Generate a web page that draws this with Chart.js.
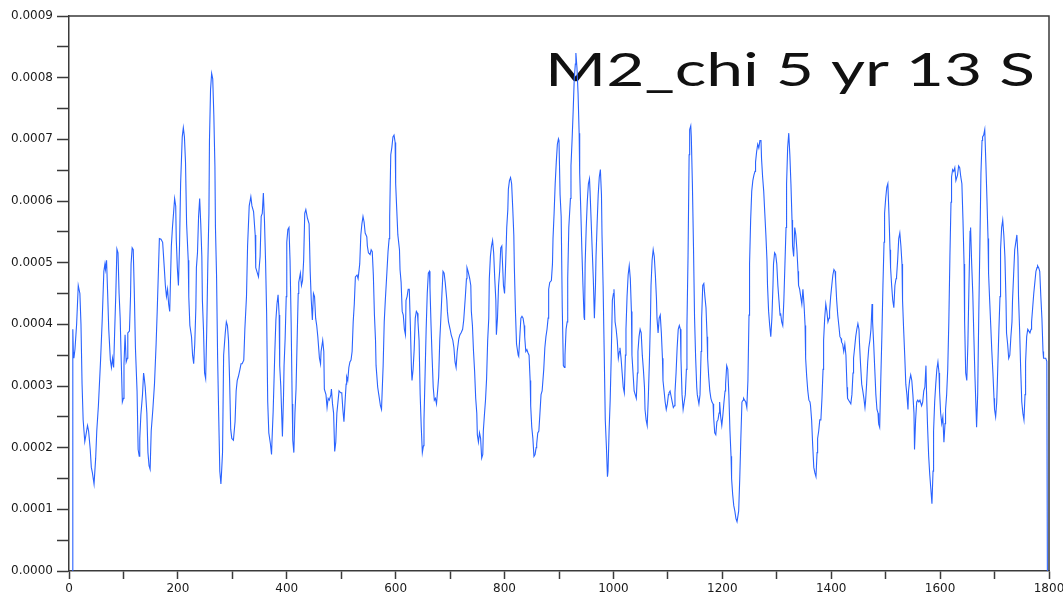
<!DOCTYPE html>
<html>
<head>
<meta charset="utf-8">
<script src="https://cdn.jsdelivr.net/npm/chart.js@4.4.1/dist/chart.umd.min.js"></script>
<style>
  html, body { margin: 0; padding: 0; background: #fff; }
  #wrap { width: 1063px; height: 599px; }
</style>
</head>
<body>
<div id="wrap"><canvas id="chart" width="1063" height="599"></canvas></div>
<script>
// time axis (samples)
const sampleX = [
  6,7,8,9,11,14,17,20,22,24,26,29,31,34,36,39,41,43,46,49,51,54,58,61,64,66,67,69,71,73,76,78,80,82,84,86,88,90,92,94,96,98,100,101,103,105,107,108,111,113,114,116,118,120,122,125,127,129,130,132,135,137,138,140,143,145,147,149,151,154,157,160,162,164,166,169,172,175,177,179,181,183,185,186,188,190,192,194,196,197,199,201,203,205,208,210,212,214,216,219,
  220,222,225,227,229,231,233,234,236,238,240,242,244,245,247,249,251,253,255,257,258,260,262,264,266,268,269,271,273,275,277,279,280,282,284,287,289,291,293,295,297,299,302,305,307,309,311,314,316,318,321,323,326,328,331,334,336,339,342,343,346,348,351,353,355,357,359,361,363,365,367,370,372,373,375,378,380,382,384,386,387,389,391,392,394,395,397,399,400,402,404,406,408,410,411,413,415,417,419,421,422,425,427,429,431,433,435,438,441,443,445,447,449,451,
  453,455,457,460,462,463,466,468,469,472,474,476,478,481,482,484,486,488,490,492,494,496,499,501,503,505,507,509,510,512,514,516,518,520,522,524,526,529,531,534,536,538,540,542,544,547,548,550,553,555,557,559,561,563,564,567,569,572,574,575,577,579,581,584,586,588,589,591,593,595,597,599,600,602,604,607,608,610,612,614,616,618,619,621,623,625,627,629,630,632,634,636,638,640,641,643,645,647,649,651,652,654,656,658,660,662,663,665,667,669,671,673,675,677,679,681,
  683,685,687,689,691,694,695,697,700,702,705,707,709,711,713,716,718,720,723,725,728,730,731,733,736,738,739,741,743,745,747,749,750,752,754,756,758,760,761,763,765,767,769,771,772,774,776,778,780,782,784,785,787,789,791,793,795,796,798,800,802,804,806,807,809,811,813,815,817,818,820,822,825,826,828,830,832,834,836,837,839,841,843,845,847,848,850,852,854,856,858,859,861,863,865,867,869,870,872,874,876,878,880,881,883,886,888,889,891,893,895,897,899,900,902,904,906,908,910,
  911,913,915,916,918,921,922,924,926,928,930,931,933,935,937,938,940,942,944,946,947,948,950,952,954,956,957,959,961,963,965,967,968,970,972,974,976,978,979,981,983,985,987,989,990,992,994,996,998,1000,1001,1003,1005,1007,1009,1011,1012,1014,1016,1018,1020,1022,1023,1025,1027,1029,1031,1033,1034,1036,1038,1040,1042,1044,1045,1047,1049,1051,1053,1055,1057,1058,1060,1062,1064,1066,1068,1069,1071,1073,1075,1077,1079,1080,1082,1084,1086,1088,1090,1091,1093,1095,1097,1099,1101,1102,1104,1106,1108,1110,1112,1113,1115,1117,1119,1121,1123,1124,1126,1128,1130,1132,1134,1135,1137,1139,
  1140,1142,1143,1145,1147,1149,1151,1153,1154,1157,1159,1161,1162,1164,1166,1168,1170,1172,1173,1175,1177,1179,1181,1183,1184,1186,1188,1190,1192,1194,1195,1197,1199,1201,1203,1205,1206,1208,1210,1212,1214,1216,1217,1219,1221,1223,1225,1227,1228,1230,1232,1234,1236,1238,1239,1241,1243,1245,1247,1249,1250,1252,1254,1256,1258,1260,1261,1263,1265,1267,1269,1271,1272,1274,1276,1278,1280,1282,1283,1285,1287,1289,1291,1293,1294,1296,1298,1300,1302,1304,1306,1307,1309,1311,1313,1315,1317,1318,1320,1322,1324,1326,1328,1329,1331,1333,1335,1337,1339,1340,1342,1344,1346,1348,1350,1352,1353,1355,1357,1359,1361,1362,1364,1366,1368,
  1370,1372,1374,1375,1377,1379,1381,1383,1385,1386,1388,1390,1392,1394,1396,1397,1399,1401,1403,1405,1407,1408,1410,1412,1414,1416,1418,1419,1421,1423,1425,1427,1429,1430,1432,1434,1436,1438,1440,1441,1443,1445,1447,1449,1451,1452,1454,1456,1458,1460,1462,1463,1465,1467,1469,1471,1473,1475,1476,1478,1480,1482,1484,1486,1487,1489,1491,1493,1495,1497,1498,1500,1502,1504,1506,1508,1509,1511,1513,1515,1517,1519,1520,1522,1524,1526,1528,1530,1531,1533,1535,1537,1539,1541,1542,1544,1546,1548,1550,1552,1553,1555,1557,1559,1561,1563,1564,1566,1568,1570,1572,1574,1575,1577,1579,1581,1583,1585,1587,1588,1590,1592,1594,1596,1598,
  1599,1601,1603,1605,1607,1609,1610,1612,1614,1616,1618,1620,1621,1623,1625,1627,1629,1631,1632,1634,1636,1638,1640,1642,1644,1645,1647,1649,1651,1653,1655,1656,1658,1660,1662,1664,1666,1667,1669,1671,1673,1675,1677,1678,1680,1682,1684,1686,1688,1689,1691,1693,1695,1697,1699,1700,1702,1704,1706,1708,1710,1711,1713,1715,1717,1719,1721,1722,1724,1726,1728,1730,1732,1733,1735,1737,1739,1741,1743,1744,1746,1748,1750,1752,1754,1756,1757,1759,1761,1763,1765,1767,1768,1770,1772,1774,1776,1778,1779,1781,1783,1785,1787,1789,1790,1792,1794,1796,1797
];

// chi value at each sample
const chiValues = [
  0,3.92e-4,3.55e-4,3.45e-4,3.6e-4,4.0e-4,4.63e-4,4.5e-4,4.0e-4,3.03e-4,2.45e-4,2.1e-4,2.2e-4,2.36e-4,2.27e-4,1.97e-4,1.68e-4,1.59e-4,1.41e-4,1.83e-4,2.27e-4,2.68e-4,3.42e-4,4.07e-4,4.86e-4,4.98e-4,4.89e-4,5.04e-4,4.5e-4,3.92e-4,3.42e-4,3.3e-4,3.45e-4,3.3e-4,3.92e-4,4.5e-4,5.22e-4,5.16e-4,4.5e-4,4.1e-4,3.39e-4,2.74e-4,2.8e-4,3.36e-4,3.83e-4,3.39e-4,3.45e-4,3.86e-4,3.89e-4,4.45e-4,4.98e-4,5.24e-4,5.21e-4,4.5e-4,3.62e-4,2.92e-4,1.97e-4,1.86e-4,2.15e-4,2.53e-4,2.86e-4,3.21e-4,3.15e-4,2.98e-4,2.56e-4,1.92e-4,1.71e-4,1.65e-4,2.27e-4,2.62e-4,3.03e-4,3.68e-4,4.21e-4,4.8e-4,5.39e-4,5.38e-4,5.33e-4,4.92e-4,4.63e-4,4.45e-4,4.57e-4,4.33e-4,4.21e-4,4.57e-4,5.27e-4,5.57e-4,5.8e-4,6.04e-4,5.92e-4,5.39e-4,4.92e-4,4.63e-4,5.27e-4,6.28e-4,7.04e-4,7.19e-4,7.04e-4,6.63e-4,5.63e-4,5.04e-4,
  4.45e-4,3.98e-4,3.8e-4,3.5e-4,3.36e-4,3.68e-4,4.27e-4,4.92e-4,5.16e-4,5.75e-4,6.04e-4,5.63e-4,5.1e-4,4.39e-4,3.92e-4,3.21e-4,3.12e-4,3.92e-4,4.98e-4,5.8e-4,6.98e-4,7.81e-4,8.07e-4,7.98e-4,7.4e-4,6.57e-4,5.57e-4,4.8e-4,3.45e-4,2.5e-4,1.62e-4,1.41e-4,1.56e-4,1.92e-4,3.5e-4,3.86e-4,4.04e-4,3.98e-4,3.74e-4,3.09e-4,2.3e-4,2.15e-4,2.12e-4,2.42e-4,2.92e-4,3.09e-4,3.15e-4,3.27e-4,3.36e-4,3.36e-4,3.42e-4,3.92e-4,4.45e-4,5.27e-4,5.92e-4,6.07e-4,5.92e-4,5.83e-4,5.45e-4,4.92e-4,4.83e-4,4.77e-4,5.1e-4,5.75e-4,5.8e-4,6.13e-4,5.69e-4,5.04e-4,4.18e-4,2.74e-4,2.24e-4,2.06e-4,1.89e-4,2.15e-4,2.59e-4,3.54e-4,4.07e-4,4.33e-4,4.48e-4,4.15e-4,3.33e-4,3.0e-4,2.45e-4,2.18e-4,2.83e-4,3.33e-4,3.77e-4,4.45e-4,5.33e-4,5.54e-4,5.57e-4,5.04e-4,4.04e-4,2.71e-4,2.12e-4,1.92e-4,2.56e-4,2.95e-4,3.74e-4,4.5e-4,4.68e-4,4.83e-4,4.63e-4,4.71e-4,5.04e-4,5.8e-4,5.86e-4,5.72e-4,5.63e-4,4.86e-4,4.39e-4,4.07e-4,4.5e-4,4.45e-4,
  4.1e-4,3.98e-4,3.8e-4,3.45e-4,3.36e-4,3.56e-4,3.74e-4,3.56e-4,2.95e-4,2.86e-4,2.65e-4,2.8e-4,2.77e-4,2.86e-4,2.95e-4,2.71e-4,2.56e-4,1.94e-4,2.09e-4,2.56e-4,2.74e-4,2.92e-4,2.89e-4,2.89e-4,2.62e-4,2.42e-4,2.74e-4,3.03e-4,3.15e-4,3.09e-4,3.3e-4,3.39e-4,3.42e-4,3.56e-4,4.04e-4,4.33e-4,4.77e-4,4.8e-4,4.74e-4,4.98e-4,5.45e-4,5.63e-4,5.75e-4,5.66e-4,5.48e-4,5.42e-4,5.27e-4,5.16e-4,5.13e-4,5.21e-4,5.18e-4,4.8e-4,4.15e-4,3.74e-4,3.33e-4,2.98e-4,2.86e-4,2.68e-4,2.62e-4,2.86e-4,3.33e-4,4.04e-4,4.39e-4,4.86e-4,5.18e-4,5.39e-4,5.75e-4,6.75e-4,6.87e-4,7.04e-4,7.07e-4,6.95e-4,6.28e-4,5.86e-4,5.45e-4,5.21e-4,4.89e-4,4.68e-4,4.21e-4,4.15e-4,3.92e-4,3.83e-4,4.39e-4,4.45e-4,4.57e-4,4.57e-4,3.98e-4,3.27e-4,3.09e-4,3.27e-4,3.59e-4,4.1e-4,4.21e-4,4.18e-4,4.04e-4,3.74e-4,2.86e-4,2.33e-4,1.92e-4,2.03e-4,2.45e-4,3.18e-4,3.92e-4,4.5e-4,4.83e-4,4.86e-4,4.6e-4,3.98e-4,3.45e-4,2.98e-4,2.77e-4,2.8e-4,2.71e-4,2.92e-4,3.15e-4,3.74e-4,
  4.1e-4,4.5e-4,4.86e-4,4.83e-4,4.68e-4,4.39e-4,4.21e-4,4.04e-4,3.92e-4,3.83e-4,3.74e-4,3.62e-4,3.39e-4,3.3e-4,3.56e-4,3.77e-4,3.83e-4,3.86e-4,3.92e-4,4.07e-4,4.45e-4,4.74e-4,4.92e-4,4.86e-4,4.74e-4,4.63e-4,4.21e-4,3.98e-4,3.56e-4,3.24e-4,2.8e-4,2.56e-4,2.21e-4,2.09e-4,2.24e-4,2.15e-4,1.83e-4,1.89e-4,2.27e-4,2.53e-4,2.77e-4,3.12e-4,3.74e-4,4.1e-4,4.74e-4,5.1e-4,5.27e-4,5.36e-4,5.16e-4,4.74e-4,4.39e-4,3.83e-4,4.1e-4,4.63e-4,4.86e-4,5.24e-4,5.27e-4,5.04e-4,4.63e-4,4.5e-4,4.98e-4,5.57e-4,5.86e-4,6.19e-4,6.33e-4,6.38e-4,6.28e-4,5.89e-4,5.45e-4,4.92e-4,4.21e-4,3.68e-4,3.5e-4,3.48e-4,3.8e-4,4.1e-4,4.13e-4,4.1e-4,3.98e-4,3.8e-4,3.56e-4,3.59e-4,3.54e-4,3.5e-4,3.09e-4,2.68e-4,2.33e-4,2.15e-4,1.86e-4,1.89e-4,2.0e-4,2.06e-4,2.24e-4,2.27e-4,2.56e-4,2.86e-4,2.92e-4,2.92e-4,3.27e-4,3.62e-4,3.8e-4,3.92e-4,4.1e-4,4.57e-4,4.68e-4,4.71e-4,4.98e-4,5.39e-4,5.8e-4,6.28e-4,6.63e-4,6.92e-4,7.01e-4,6.98e-4,6.1e-4,5.75e-4,4.27e-4,3.33e-4,3.3e-4,
  3.5e-4,3.92e-4,4.04e-4,4.74e-4,5.57e-4,6.04e-4,6.57e-4,6.98e-4,7.45e-4,7.98e-4,8.22e-4,8.4e-4,8.16e-4,7.75e-4,7.1e-4,6.45e-4,5.86e-4,5.21e-4,4.63e-4,4.12e-4,4.07e-4,4.98e-4,5.57e-4,6.0e-4,6.28e-4,6.36e-4,6.16e-4,5.69e-4,5.21e-4,4.74e-4,4.1e-4,4.63e-4,5.1e-4,5.63e-4,6.1e-4,6.39e-4,6.51e-4,6.1e-4,5.45e-4,4.63e-4,3.56e-4,2.45e-4,2.03e-4,1.53e-4,1.62e-4,2.27e-4,2.77e-4,3.5e-4,4.39e-4,4.5e-4,4.57e-4,4.04e-4,3.92e-4,3.74e-4,3.45e-4,3.56e-4,3.62e-4,3.45e-4,3.21e-4,2.98e-4,2.89e-4,3.5e-4,3.92e-4,4.45e-4,4.8e-4,4.95e-4,4.74e-4,4.21e-4,3.5e-4,3.21e-4,2.92e-4,2.86e-4,2.8e-4,3.21e-4,3.56e-4,3.8e-4,3.92e-4,3.86e-4,3.5e-4,3.27e-4,2.98e-4,2.62e-4,2.45e-4,2.36e-4,2.8e-4,3.39e-4,4.1e-4,4.63e-4,5.04e-4,5.21e-4,5.1e-4,4.8e-4,4.42e-4,4.1e-4,3.86e-4,4.1e-4,4.15e-4,3.86e-4,3.45e-4,3.09e-4,2.92e-4,2.74e-4,2.62e-4,2.71e-4,2.86e-4,2.89e-4,2.92e-4,2.83e-4,2.74e-4,2.65e-4,2.68e-4,2.89e-4,3.21e-4,3.62e-4,3.92e-4,3.98e-4,3.92e-4,3.45e-4,2.86e-4,2.62e-4,2.74e-4,2.86e-4,3.27e-4,3.98e-4,5.1e-4,6.75e-4,
  7.16e-4,7.22e-4,7.04e-4,6.28e-4,5.27e-4,4.1e-4,3.45e-4,2.98e-4,2.86e-4,2.71e-4,2.86e-4,3.56e-4,4.1e-4,4.63e-4,4.66e-4,4.45e-4,4.27e-4,3.8e-4,3.45e-4,3.15e-4,2.92e-4,2.8e-4,2.74e-4,2.71e-4,2.5e-4,2.24e-4,2.21e-4,2.42e-4,2.45e-4,2.56e-4,2.74e-4,2.5e-4,2.36e-4,2.53e-4,2.74e-4,2.92e-4,3.03e-4,3.33e-4,3.27e-4,2.86e-4,2.27e-4,1.86e-4,1.5e-4,1.24e-4,1.06e-4,0.97e-4,0.85e-4,0.8e-4,0.8e-4,0.97e-4,1.5e-4,2.15e-4,2.74e-4,2.77e-4,2.8e-4,2.77e-4,2.74e-4,2.65e-4,3.09e-4,4.15e-4,4.98e-4,5.69e-4,6.16e-4,6.33e-4,6.42e-4,6.48e-4,6.63e-4,6.8e-4,6.92e-4,6.86e-4,6.98e-4,6.98e-4,6.69e-4,6.39e-4,6.16e-4,5.8e-4,5.45e-4,5.04e-4,4.63e-4,4.21e-4,3.98e-4,3.8e-4,4.1e-4,4.63e-4,4.98e-4,5.16e-4,5.13e-4,4.98e-4,4.63e-4,4.39e-4,4.15e-4,4.18e-4,4.04e-4,3.98e-4,4.39e-4,4.98e-4,5.57e-4,6.28e-4,6.87e-4,7.1e-4,6.75e-4,6.28e-4,5.69e-4,5.27e-4,5.1e-4,5.57e-4,5.45e-4,5.21e-4,4.86e-4,4.63e-4,4.57e-4,4.45e-4,4.33e-4,4.57e-4,4.33e-4,3.98e-4,3.45e-4,3.15e-4,2.92e-4,2.77e-4,2.74e-4,2.68e-4,2.45e-4,2.03e-4,1.68e-4,
  1.59e-4,1.53e-4,1.92e-4,2.15e-4,2.27e-4,2.45e-4,2.45e-4,2.8e-4,3.27e-4,3.74e-4,4.1e-4,4.33e-4,4.21e-4,4.04e-4,4.1e-4,4.21e-4,4.45e-4,4.63e-4,4.8e-4,4.89e-4,4.86e-4,4.74e-4,4.39e-4,4.15e-4,3.98e-4,3.8e-4,3.77e-4,3.71e-4,3.68e-4,3.56e-4,3.68e-4,3.5e-4,2.98e-4,2.8e-4,2.77e-4,2.74e-4,2.71e-4,2.86e-4,3.21e-4,3.45e-4,3.62e-4,3.8e-4,3.92e-4,4.01e-4,3.92e-4,3.68e-4,3.33e-4,3.03e-4,2.92e-4,2.8e-4,2.65e-4,2.74e-4,3.03e-4,3.39e-4,3.62e-4,3.74e-4,3.92e-4,4.33e-4,4.04e-4,3.68e-4,3.27e-4,2.86e-4,2.62e-4,2.56e-4,2.39e-4,2.33e-4,3.09e-4,3.8e-4,4.63e-4,5.33e-4,5.8e-4,6.04e-4,6.22e-4,6.28e-4,5.8e-4,5.21e-4,4.92e-4,4.63e-4,4.39e-4,4.27e-4,4.63e-4,4.74e-4,4.77e-4,5.04e-4,5.39e-4,5.48e-4,5.27e-4,4.98e-4,4.39e-4,3.92e-4,3.5e-4,3.03e-4,2.86e-4,2.62e-4,2.92e-4,3.09e-4,3.18e-4,3.09e-4,2.86e-4,2.56e-4,1.97e-4,2.45e-4,2.74e-4,2.77e-4,2.74e-4,2.77e-4,2.74e-4,2.68e-4,2.74e-4,2.92e-4,2.98e-4,3.33e-4,2.92e-4,2.33e-4,1.86e-4,1.56e-4,1.33e-4,1.09e-4,1.62e-4,2.27e-4,2.74e-4,3.03e-4,3.27e-4,3.39e-4,3.21e-4,
  2.92e-4,2.56e-4,2.39e-4,2.5e-4,2.09e-4,2.39e-4,2.62e-4,2.86e-4,3.27e-4,4.04e-4,5.1e-4,5.98e-4,6.39e-4,6.51e-4,6.48e-4,6.54e-4,6.33e-4,6.39e-4,6.42e-4,6.57e-4,6.54e-4,6.39e-4,6.28e-4,5.69e-4,4.98e-4,4.04e-4,3.21e-4,3.09e-4,3.68e-4,4.63e-4,5.51e-4,5.57e-4,4.98e-4,4.5e-4,3.8e-4,3.15e-4,2.62e-4,2.33e-4,2.86e-4,4.15e-4,5.27e-4,6.45e-4,6.98e-4,7.04e-4,7.07e-4,7.16e-4,6.63e-4,6.04e-4,5.39e-4,4.83e-4,4.39e-4,3.98e-4,3.56e-4,3.21e-4,2.8e-4,2.62e-4,2.5e-4,2.74e-4,3.33e-4,3.92e-4,4.45e-4,5.21e-4,5.57e-4,5.69e-4,5.45e-4,5.1e-4,4.39e-4,3.86e-4,3.68e-4,3.45e-4,3.5e-4,3.8e-4,4.04e-4,4.39e-4,4.8e-4,5.21e-4,5.33e-4,5.45e-4,5.1e-4,4.45e-4,3.92e-4,3.27e-4,2.74e-4,2.56e-4,2.45e-4,2.86e-4,3.39e-4,3.8e-4,3.92e-4,3.89e-4,3.86e-4,3.92e-4,4.04e-4,4.27e-4,4.5e-4,4.68e-4,4.86e-4,4.92e-4,4.95e-4,4.92e-4,4.86e-4,4.45e-4,4.1e-4,3.56e-4,3.45e-4,3.45e-4,3.45e-4,3.4e-4,0
];

const xMin = 0, xMax = 1800, xStep = 100, xLabelEvery = 200;
const yMin = 0, yMax = 0.0009, yStep = 0.00005;
const chartTitle = 'M2_chi 5 yr 13 S';

const lineColor = '#2a63ff';
const axisColor = '#3a3a3a';
const labelFont = { family: '"DejaVu Sans", Verdana, sans-serif', size: 12 };

// closes the plot box (top and right edges)
const frameBox = {
  id: 'frameBox',
  afterDatasetsDraw(chart) {
    const { ctx, chartArea: a } = chart;
    ctx.save();
    ctx.strokeStyle = axisColor;
    ctx.lineWidth = 1.5;
    ctx.beginPath();
    ctx.moveTo(a.left, a.top);
    ctx.lineTo(a.right, a.top);
    ctx.lineTo(a.right, a.bottom);
    ctx.stroke();
    ctx.restore();
  }
};

// big caption in the upper right of the plot
const captionText = {
  id: 'captionText',
  beforeDatasetsDraw(chart) {
    const { ctx, chartArea: a } = chart;
    ctx.save();
    ctx.font = '46px Lato, "Open Sans", sans-serif';
    ctx.fillStyle = '#111';
    ctx.textBaseline = 'alphabetic';
    const w = ctx.measureText(chartTitle).width;
    const targetW = 490;
    const left = a.right - 14 - targetW;
    ctx.translate(left, 86);
    ctx.scale(targetW / w, 1);
    ctx.fillText(chartTitle, 0, 0);
    ctx.restore();
  }
};

const points = sampleX.map((x, i) => ({ x, y: chiValues[i] }));

new Chart(document.getElementById('chart'), {
  type: 'line',
  data: {
    datasets: [{
      data: points,
      borderColor: lineColor,
      borderWidth: 1.1,
      pointRadius: 0,
      tension: 0,
      fill: false
    }]
  },
  options: {
    responsive: false,
    animation: false,
    layout: { padding: { top: 16, right: 14, left: 0, bottom: 0 } },
    plugins: { legend: { display: false }, tooltip: { enabled: false }, title: { display: false } },
    scales: {
      x: {
        type: 'linear',
        min: xMin, max: xMax,
        afterFit(scale) {
          scale.height = 28;
          // edge labels may hang past the plot box
          scale.paddingLeft = 0;
          scale.paddingRight = 0;
        },
        ticks: {
          stepSize: xStep,
          autoSkip: false,
          maxRotation: 0,
          padding: 3,
          color: '#1a1a1a',
          font: labelFont,
          callback: v => (v % xLabelEvery === 0 ? String(v) : '')
        },
        grid: { drawOnChartArea: false, drawTicks: true, tickLength: 8, tickColor: axisColor, tickWidth: 1.5 },
        border: { color: axisColor, width: 1.5 }
      },
      y: {
        min: yMin, max: yMax,
        afterFit(scale) {
          scale.width = 69;
          scale.paddingTop = 0;
          scale.paddingBottom = 0;
        },
        ticks: {
          stepSize: yStep,
          autoSkip: false,
          padding: 4,
          color: '#1a1a1a',
          font: labelFont,
          callback: v => {
            const n = Math.round(v / yStep);
            return n % 2 === 0 ? (n * yStep).toFixed(4) : '';
          }
        },
        grid: { drawOnChartArea: false, drawTicks: true, tickLength: 12, tickColor: axisColor, tickWidth: 1.5 },
        border: { color: axisColor, width: 1.5 }
      }
    }
  },
  plugins: [captionText, frameBox]
});
</script>
</body>
</html>
